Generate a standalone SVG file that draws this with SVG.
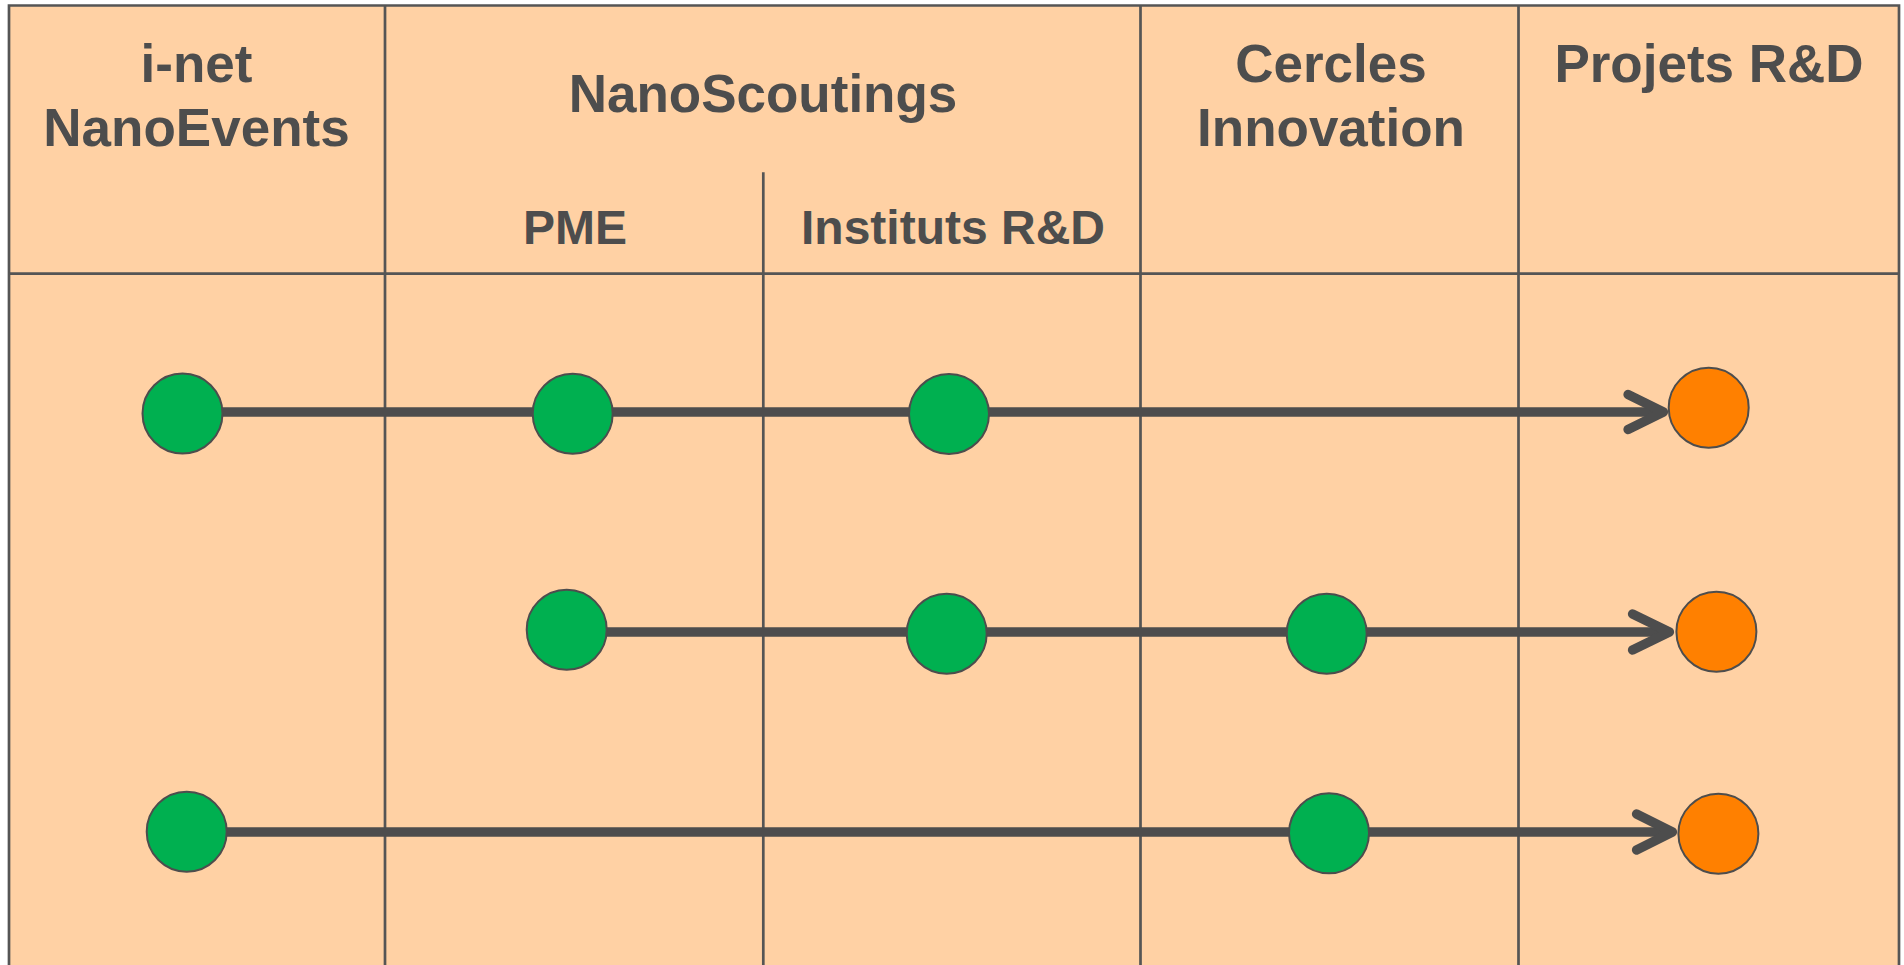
<svg xmlns="http://www.w3.org/2000/svg" width="1904" height="965" viewBox="0 0 1904 965">
<defs>
<style>
.bg{fill:#FFD1A4;stroke:none}
.grid{stroke:#555555;stroke-width:2.7;fill:none}
.hd{font-family:"Liberation Sans",Arial,sans-serif;font-weight:bold;font-size:53px;fill:#4D4D4D;text-anchor:middle}
.sub{font-family:"Liberation Sans",Arial,sans-serif;font-weight:bold;font-size:48px;fill:#4D4D4D;text-anchor:middle}
.conn{stroke:#4D4D4D;stroke-width:9.3;fill:none}
.head{stroke:#4D4D4D;stroke-width:9.3;fill:none;stroke-linecap:round;stroke-linejoin:round}
.g{fill:#00B050;stroke:#4D4D4D;stroke-width:2}
.o{fill:#FF8000;stroke:#4D4D4D;stroke-width:2}
</style>
</defs>
<rect x="0" y="0" width="1904" height="965" fill="#FFFFFF"/>
<g id="table">
<rect class="bg" x="9" y="5.5" width="1890" height="965"/>
<path class="grid" d="M9,975 V5.5 H1899 V975"/>
<path class="grid" d="M9,273.7 H1899"/>
<path class="grid" d="M385,5.5 V975 M1140.5,5.5 V975 M1518.5,5.5 V975"/>
<path class="grid" d="M763.3,172.3 V975"/>
</g>
<g id="headers">
<g id="h-inet"><text class="hd" x="196.5" y="81.7">i-net</text><text class="hd" x="196.5" y="146">NanoEvents</text></g>
<g id="h-nanoscoutings"><text class="hd" x="763" y="111.7">NanoScoutings</text></g>
<g id="h-pme"><text class="sub" x="575" y="244.3">PME</text></g>
<g id="h-instituts"><text class="sub" x="953" y="244.3">Instituts R&amp;D</text></g>
<g id="h-cercles"><text class="hd" x="1331" y="81.7">Cercles</text><text class="hd" x="1331" y="146">Innovation</text></g>
<g id="h-projets"><text class="hd" x="1709" y="81.7">Projets R&amp;D</text></g>
</g>
<g id="connectors">
<path class="conn" d="M183,412 H1660"/>
<path class="head" d="M1628,394.5 L1663.5,412 L1628,429.5"/>
<path class="conn" d="M567,632 H1666"/>
<path class="head" d="M1632.5,614 L1669.5,632 L1632.5,650"/>
<path class="conn" d="M187,832 H1669"/>
<path class="head" d="M1636.5,814 L1672.5,832 L1636.5,850"/>
</g>
<g id="n1"><circle class="g" cx="182.5" cy="413.5" r="40"/></g>
<g id="n2"><circle class="g" cx="572.7" cy="413.7" r="40"/></g>
<g id="n3"><circle class="g" cx="949" cy="414" r="40"/></g>
<g id="n4"><circle class="o" cx="1708.7" cy="407.7" r="40"/></g>
<g id="n5"><circle class="g" cx="566.7" cy="629.7" r="40"/></g>
<g id="n6"><circle class="g" cx="946.7" cy="633.7" r="40"/></g>
<g id="n7"><circle class="g" cx="1326.7" cy="633.7" r="40"/></g>
<g id="n8"><circle class="o" cx="1716.4" cy="631.7" r="40"/></g>
<g id="n9"><circle class="g" cx="186.7" cy="831.7" r="40"/></g>
<g id="n10"><circle class="g" cx="1329" cy="833.3" r="40"/></g>
<g id="n11"><circle class="o" cx="1718.4" cy="833.7" r="40"/></g>
</svg>
